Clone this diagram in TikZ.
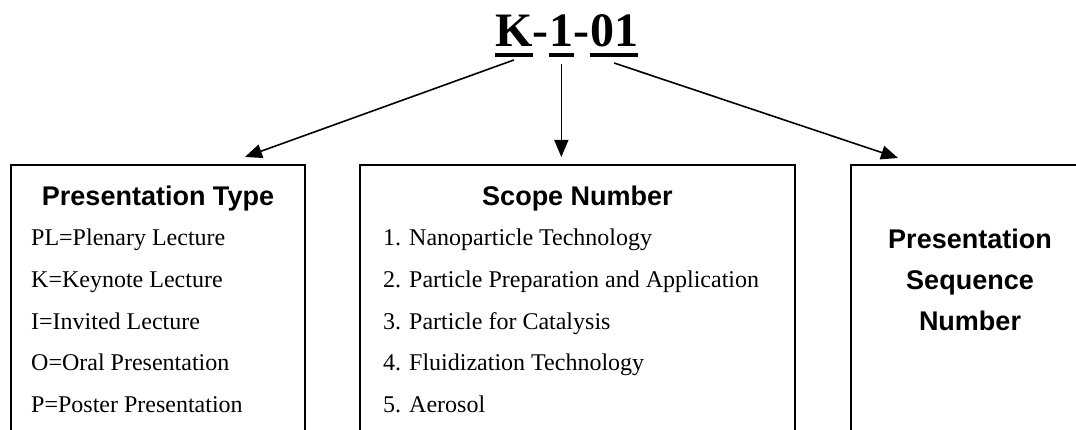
\documentclass[tikz,border=0pt]{standalone}
\usepackage{fontspec}
\setmainfont{Liberation Serif}
\setsansfont{Liberation Sans}
\usetikzlibrary{arrows.meta}

\tikzset{
  box/.style={draw, line width=1.8pt, minimum height=320pt, anchor=north, inner sep=0pt},
  head/.style={font=\sffamily\bfseries\fontsize{27}{41}\selectfont, inner sep=0pt},
  item/.style={font=\fontsize{24}{28}\selectfont, anchor=base west, inner sep=0pt},
  code/.style={font=\bfseries\fontsize{48}{58}\selectfont, anchor=base west, inner sep=0pt},
  uline/.style={line width=3.5pt},
  arr/.style={-{Triangle[length=17pt,width=14pt]}, line width=1.6pt}
}

\begin{document}
\begin{tikzpicture}[x=1pt,y=-1pt]
  \useasboundingbox (0,0) rectangle (1076,430);
  \clip (0,0) rectangle (1076,430);
  % the code on top
  \node[code] (kpart) at (495,47) {K};
  \node[code] (d1) at (kpart.base east) {-};
  \node[code] (spart) at (d1.base east) {1};
  \node[code] (d2) at (spart.base east) {-};
  \node[code] (npart) at (d2.base east) {01};
  \foreach \p in {kpart,spart,npart}
    \draw[uline] ([yshift=-8pt]\p.base west) -- ([yshift=-8pt]\p.base east);
  % the three boxes
  \node[box, minimum width=294pt] (type) at (158,164) {};
  \node[box, minimum width=435pt] (scope) at (577.5,164) {};
  \node[box, minimum width=238pt] (seq) at (970,164) {};
  \coordinate (scopetip) at (spart.base |- scope.north);
  \draw[arr] ([yshift=-13pt]kpart.base) -- ([xshift=87pt,yshift=7pt]type.north);
  \draw[arr] ([yshift=-17pt]spart.base) -- ([yshift=7pt]scopetip);
  \draw[arr] ([yshift=-16pt]npart.base) -- ([xshift=-72pt,yshift=6pt]seq.north);
  % box contents
  \node[head, anchor=base] (typehead) at (158,206) {Presentation Type};
  \node[head, anchor=base] (scopehead) at (577.5,206) {Scope Number};
  \node[head, anchor=north, align=center] (seqhead) at (970,229) {Presentation\\Sequence\\Number};
  \foreach \t [count=\i from 0] in {PL=Plenary Lecture, K=Keynote Lecture, I=Invited Lecture, O=Oral Presentation, P=Poster Presentation}
    \node[item] (type\i) at (31,246+41.5*\i) {\t};
  \foreach \t [count=\i from 0] in {1. Nanoparticle Technology, 2. Particle Preparation and Application, 3. Particle for Catalysis, 4. Fluidization Technology, 5. Aerosol}
    \node[item] (scope\i) at (383,246+41.5*\i) {\t};
\end{tikzpicture}
\end{document}
